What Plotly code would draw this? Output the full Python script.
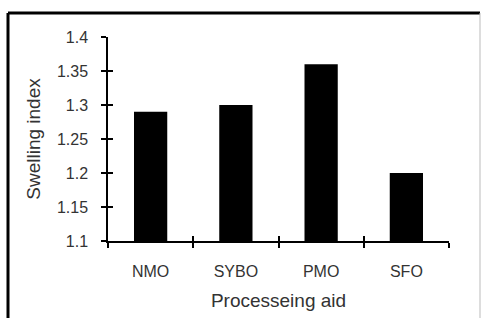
import plotly.graph_objects as go

categories = ["NMO", "SYBO", "PMO", "SFO"]
values = [1.29, 1.30, 1.36, 1.20]
y_ticks = [1.1, 1.15, 1.2, 1.25, 1.3, 1.35, 1.4]
y_tick_labels = ["1.1", "1.15", "1.2", "1.25", "1.3", "1.35", "1.4"]

W, H = 481, 318
ml, mr, mt, mb = 108, 32, 37, 77

fig = go.Figure()
fig.add_trace(go.Bar(x=categories, y=values, marker=dict(color="black", line=dict(width=0)),
                     width=0.39, showlegend=False, hoverinfo="skip"))
# invisible trace to host the overlay axes (inside half of crossing ticks)
fig.add_trace(go.Bar(x=categories, y=[None]*4, xaxis="x2", yaxis="y2",
                     showlegend=False, hoverinfo="skip"))

txt = "#333"
font = dict(family="Liberation Sans, Arial, sans-serif", size=16, color=txt)

fig.update_layout(
    width=W, height=H,
    margin=dict(l=ml, r=mr, t=mt, b=mb, autoexpand=False),
    paper_bgcolor="white", plot_bgcolor="white",
    font=font,
    xaxis=dict(type="category", tickson="boundaries", ticks="outside", ticklen=5,
               tickwidth=1.5, tickcolor="black", showline=True, linecolor="black",
               linewidth=1.5, showgrid=False, zeroline=False, ticklabelstandoff=15,
               title=dict(text="Processeing aid", font=dict(size=19, color=txt), standoff=15),
               tickfont=dict(size=16, color=txt)),
    yaxis=dict(range=[1.1, 1.4], tickvals=y_ticks, ticktext=y_tick_labels,
               ticks="outside", ticklen=5, tickwidth=1.5, tickcolor="black",
               showline=True, linecolor="black", linewidth=1.5, showgrid=False,
               zeroline=False, ticklabelstandoff=10,
               title=dict(text="Swelling index", font=dict(size=19, color=txt), standoff=11),
               tickfont=dict(size=16, color=txt)),
    xaxis2=dict(type="category", overlaying="x", tickson="boundaries", ticks="inside",
                ticklen=5, tickwidth=1.5, tickcolor="black", showticklabels=False,
                showgrid=False, zeroline=False, showline=False, categoryorder="array",
                categoryarray=categories, matches="x"),
    yaxis2=dict(overlaying="y", range=[1.1, 1.4], tickvals=y_ticks, ticks="inside",
                ticklen=5, tickwidth=1.5, tickcolor="black", showticklabels=False,
                showgrid=False, zeroline=False, showline=False),
)

# outer frame
pw = W - ml - mr
ph = H - mt - mb
x0 = (8 - ml) / pw
x1 = (480 - ml) / pw
y1 = (H - mb - 13) / ph
y0 = (H - mb - 320) / ph
fig.add_shape(type="line", xref="paper", yref="paper", x0=x0, x1=x1, y0=y1, y1=y1,
              line=dict(color="black", width=3))
fig.add_shape(type="line", xref="paper", yref="paper", x0=x0, x1=x0, y0=y0, y1=y1,
              line=dict(color="black", width=3))
fig.add_shape(type="line", xref="paper", yref="paper", x0=x1, x1=x1, y0=y0, y1=y1,
              line=dict(color="#bbb", width=1))

fig.write_html("out.html", config={"displayModeBar": False},
               post_script="document.body.style.margin='0';")
